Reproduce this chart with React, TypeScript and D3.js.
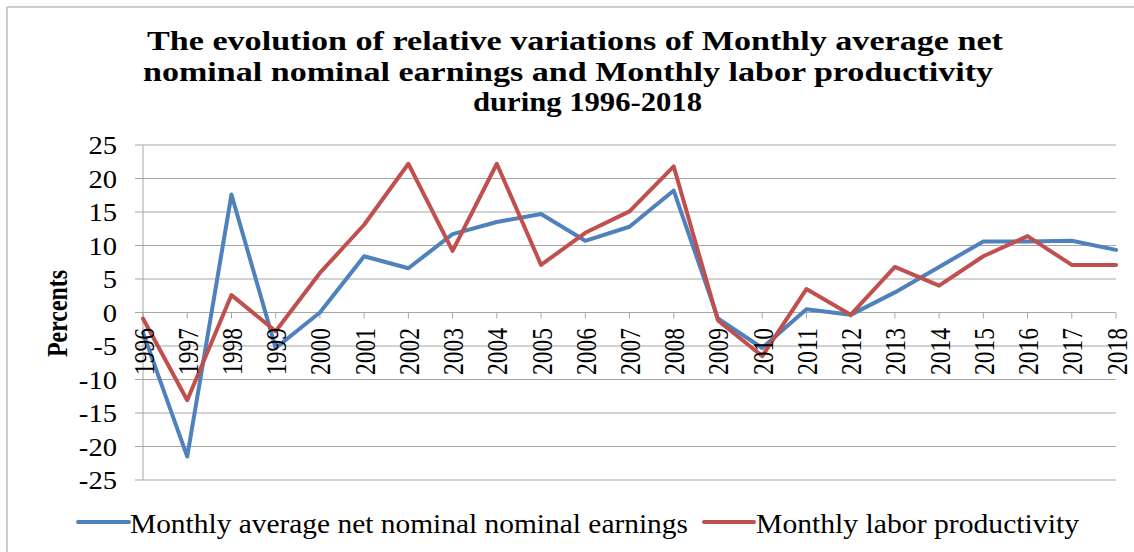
import React from "react";
import * as d3 from "d3";

const years = [
  "1996", "1997", "1998", "1999", "2000", "2001", "2002", "2003", "2004", "2005", "2006", "2007",
  "2008", "2009", "2010", "2011", "2012", "2013", "2014", "2015", "2016", "2017", "2018",
];
const earnings = [
  -3, -21.5, 17.6, -5.3, 0, 8.4, 6.6, 11.7, 13.5, 14.7, 10.7, 12.8,
  18.2, -0.9, -5.3, 0.5, -0.35, 3.0, 6.8, 10.6, 10.6, 10.7, 9.35,
];
const productivity = [
  -0.9, -13.1, 2.6, -2.8, 5.9, 13.1, 22.2, 9.2, 22.2, 7.1, 11.9, 15.1,
  21.8, -1.2, -6.5, 3.5, -0.35, 6.8, 4.0, 8.4, 11.4, 7.1, 7.1,
];
const yTicks = [25, 20, 15, 10, 5, 0, -5, -10, -15, -20, -25];
const titleLines = [
  "The evolution of relative variations of Monthly average net",
  "nominal nominal earnings and Monthly labor productivity",
  "during 1996-2018",
];
const seriesNames = ["Monthly average net nominal nominal earnings", "Monthly labor productivity"];
const colors = ["#4F81BD", "#C0504D"];

const W = 1134;
const H = 552;
const FONT = "'Liberation Serif', 'Times New Roman', serif";

export default function App() {
  const x = d3.scalePoint<string>().domain(years).range([143, 1116]);
  const y = d3.scaleLinear().domain([-25, 25]).range([480, 145]);
  const line = d3
    .line<number>()
    .x((_, i) => x(years[i]) as number)
    .y((d) => y(d));

  const grid = "#a6a6a6";
  const titleLayout = [
    { x: 147, y: 50, len: 856 },
    { x: 143, y: 81, len: 850 },
    { x: 473, y: 111, len: 229 },
  ];
  const legendLayout = [
    { x1: 78, x2: 129, tx: 130, len: 558 },
    { x1: 704, x2: 754, tx: 756, len: 323 },
  ];

  return (
    <svg
      width={W}
      height={H}
      style={{ position: "absolute", left: 0, top: 0, background: "#fff" }}
      fontFamily={FONT}
    >
      <rect x={0} y={0} width={W} height={H} fill="#fff" />
      {/* outer frame */}
      <line x1={7} y1={7} x2={W} y2={7} stroke="#bdbdbd" strokeWidth={1.5} />
      <line x1={7} y1={7} x2={7} y2={H} stroke="#bdbdbd" strokeWidth={1.5} />

      {/* title */}
      {titleLines.map((t, i) => (
        <text
          key={i}
          x={titleLayout[i].x}
          y={titleLayout[i].y}
          fontSize={28}
          fontWeight="bold"
          textLength={titleLayout[i].len}
          lengthAdjust="spacingAndGlyphs"
          fill="#000"
        >
          {t}
        </text>
      ))}

      {/* gridlines + y ticks */}
      {yTicks.map((v) => (
        <g key={v}>
          <line x1={135} x2={1116} y1={y(v)} y2={y(v)} stroke={grid} strokeWidth={1} />
          <text
            transform={`translate(117,${y(v)}) scale(1.1,1)`}
            textAnchor="end"
            dy="0.35em"
            fontSize={26}
            fill="#000"
          >
            {v}
          </text>
        </g>
      ))}
      {/* y axis line */}
      <line x1={143} x2={143} y1={y(25)} y2={y(-25)} stroke={grid} strokeWidth={1} />

      {/* x ticks at zero */}
      {years.map((yr) => (
        <line
          key={yr}
          x1={x(yr)}
          x2={x(yr)}
          y1={y(0)}
          y2={y(0) + 6}
          stroke={grid}
          strokeWidth={1}
        />
      ))}

      {/* series */}
      {[earnings, productivity].map((s, i) => (
        <path
          key={i}
          d={line(s) || ""}
          fill="none"
          stroke={colors[i]}
          strokeWidth={4}
          strokeLinejoin="round"
          strokeLinecap="round"
        />
      ))}

      {/* x labels */}
      {years.map((yr) => (
        <text
          key={yr}
          transform={`translate(${x(yr)},375) rotate(-90)`}
          textAnchor="start"
          dy="0.35em"
          fontSize={30}
          textLength={47}
          lengthAdjust="spacingAndGlyphs"
          fill="#000"
        >
          {yr}
        </text>
      ))}

      {/* y axis title */}
      <text
        transform="translate(57,357) rotate(-90)"
        textAnchor="start"
        dy="0.35em"
        fontSize={29}
        fontWeight="bold"
        textLength={87}
        lengthAdjust="spacingAndGlyphs"
        fill="#000"
      >
        Percents
      </text>

      {/* legend */}
      {seriesNames.map((n, i) => (
        <g key={n}>
          <line
            x1={legendLayout[i].x1}
            x2={legendLayout[i].x2}
            y1={522}
            y2={522}
            stroke={colors[i]}
            strokeWidth={4}
            strokeLinecap="round"
          />
          <text
            x={legendLayout[i].tx}
            y={533}
            fontSize={28}
            textLength={legendLayout[i].len}
            lengthAdjust="spacingAndGlyphs"
            fill="#000"
          >
            {n}
          </text>
        </g>
      ))}
    </svg>
  );
}
